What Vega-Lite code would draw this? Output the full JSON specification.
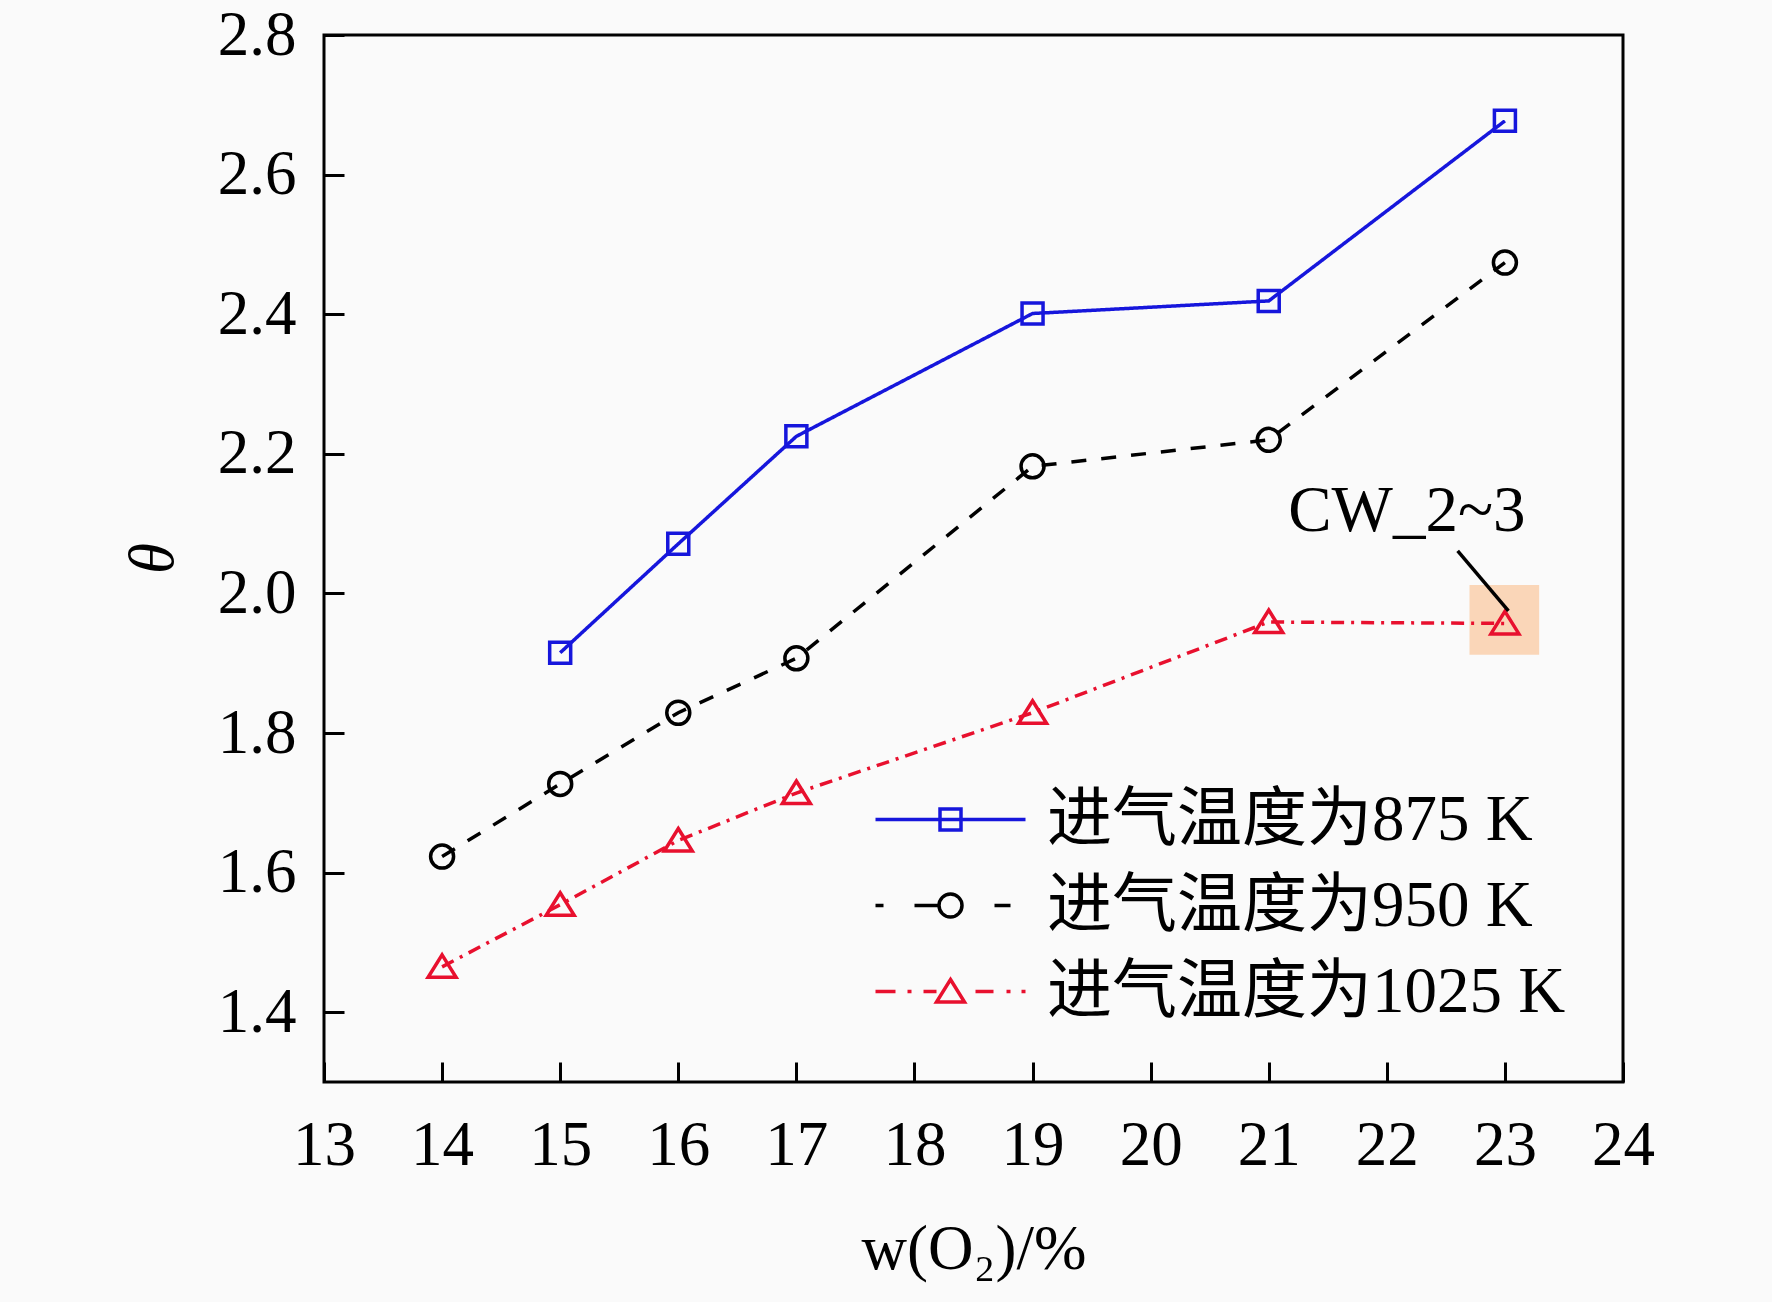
{
  "$schema": "https://vega.github.io/schema/vega-lite/v6.json",
  "autosize": "none",
  "width": 1299,
  "height": 1047,
  "padding": {"left": 324, "top": 35, "right": 149, "bottom": 220},
  "background": "#FAFAFA",
  "config": {
    "view": {"stroke": "#000000", "strokeWidth": 3},
    "font": "Liberation Serif, 'Noto Sans CJK SC'",
    "legend": {"symbolOpacity": 1},
    "axis": {
      "grid": false,
      "domain": false,
      "tickColor": "#000000",
      "tickWidth": 3,
      "tickSize": -20,
      "labelFlush": false,
      "labelFont": "Liberation Serif",
      "labelFontSize": 63,
      "labelColor": "#000000",
      "titleFont": "Liberation Serif",
      "titleFontSize": 63,
      "titleColor": "#000000",
      "titleFontWeight": "normal"
    }
  },
  "datasets": {
    "main": [
      {"series": "进气温度为875 K", "x": 15, "y": 1.915},
      {"series": "进气温度为875 K", "x": 16, "y": 2.071},
      {"series": "进气温度为875 K", "x": 17, "y": 2.225},
      {"series": "进气温度为875 K", "x": 19, "y": 2.401},
      {"series": "进气温度为875 K", "x": 21, "y": 2.419},
      {"series": "进气温度为875 K", "x": 23, "y": 2.677},
      {"series": "进气温度为950 K", "x": 14, "y": 1.623},
      {"series": "进气温度为950 K", "x": 15, "y": 1.727},
      {"series": "进气温度为950 K", "x": 16, "y": 1.829},
      {"series": "进气温度为950 K", "x": 17, "y": 1.907},
      {"series": "进气温度为950 K", "x": 19, "y": 2.182},
      {"series": "进气温度为950 K", "x": 21, "y": 2.220},
      {"series": "进气温度为950 K", "x": 23, "y": 2.474},
      {"series": "进气温度为1025 K", "x": 14, "y": 1.465},
      {"series": "进气温度为1025 K", "x": 15, "y": 1.554},
      {"series": "进气温度为1025 K", "x": 16, "y": 1.646},
      {"series": "进气温度为1025 K", "x": 17, "y": 1.714},
      {"series": "进气温度为1025 K", "x": 19, "y": 1.829},
      {"series": "进气温度为1025 K", "x": 21, "y": 1.959},
      {"series": "进气温度为1025 K", "x": 23, "y": 1.957}
    ]
  },
  "layer": [
    {
      "data": {"values": [{"x1": 22.7, "x2": 23.29, "y1": 1.912, "y2": 2.012}]},
      "mark": {"type": "rect", "fill": "#FAD6B8"},
      "encoding": {
        "x": {"field": "x1", "type": "quantitative", "scale": {"domain": [13, 24], "nice": false, "zero": false}},
        "x2": {"field": "x2"},
        "y": {"field": "y1", "type": "quantitative", "scale": {"domain": [1.3, 2.8], "nice": false, "zero": false}},
        "y2": {"field": "y2"}
      }
    },
    {
      "data": {"name": "main"},
      "mark": {"type": "line", "strokeWidth": 3.5},
      "encoding": {
        "x": {"field": "x", "type": "quantitative"},
        "y": {"field": "y", "type": "quantitative"},
        "color": {
          "field": "series", "type": "nominal",
          "scale": {"domain": ["进气温度为875 K", "进气温度为950 K", "进气温度为1025 K"], "range": ["#1616DC", "#000000", "#E8102E"]}
        },
        "strokeDash": {
          "field": "series", "type": "nominal", "legend": null,
          "sort": ["进气温度为875 K", "进气温度为950 K", "进气温度为1025 K"],
          "scale": {"range": [[1, 0], [15, 15], [13, 7, 3, 7]]}
        }
      }
    },
    {
      "data": {"name": "main"},
      "transform": [{"filter": {"field": "series", "equal": "进气温度为875 K"}}],
      "mark": {"type": "point", "shape": "M-1.05,-1.05H1.05V1.05H-1.05Z", "filled": false, "color": "#1616DC", "size": 400, "strokeWidth": 3.5, "opacity": 1},
      "encoding": {
        "x": {"field": "x", "type": "quantitative"},
        "y": {"field": "y", "type": "quantitative"}
      }
    },
    {
      "data": {"name": "main"},
      "transform": [{"filter": {"field": "series", "equal": "进气温度为950 K"}}],
      "mark": {"type": "point", "shape": "M-1.15,0A1.15,1.15,0,1,0,1.15,0A1.15,1.15,0,1,0,-1.15,0Z", "filled": false, "color": "#000000", "size": 400, "strokeWidth": 3.5, "opacity": 1},
      "encoding": {
        "x": {"field": "x", "type": "quantitative"},
        "y": {"field": "y", "type": "quantitative"}
      }
    },
    {
      "data": {"name": "main"},
      "transform": [{"filter": {"field": "series", "equal": "进气温度为1025 K"}}],
      "mark": {"type": "point", "shape": "M0,-1.2L1.4,1.05H-1.4Z", "filled": false, "color": "#E8102E", "size": 400, "strokeWidth": 3.5, "opacity": 1},
      "encoding": {
        "x": {"field": "x", "type": "quantitative"},
        "y": {"field": "y", "type": "quantitative"}
      }
    },
    {
      "data": {"name": "main"},
      "mark": {"type": "point", "filled": false, "opacity": 0, "size": 400, "strokeWidth": 3.5},
      "encoding": {
        "x": {"field": "x", "type": "quantitative"},
        "y": {"field": "y", "type": "quantitative"},
        "color": {
          "field": "series", "type": "nominal",
          "legend": {
            "orient": "none",
            "legendX": 594,
            "legendY": 752,
            "title": null,
            "symbolSize": 400,
            "symbolStrokeWidth": 3.5,
            "symbolOpacity": 1,
            "symbolFillColor": "transparent",
            "labelFont": "Liberation Serif, 'Noto Sans CJK SC'",
            "labelFontSize": 65,
            "labelColor": "#000000",
            "labelLimit": 2000,
            "labelOffset": 64,
            "rowPadding": 20
          }
        },
        "shape": {
          "field": "series", "type": "nominal",
          "scale": {
            "domain": ["进气温度为875 K", "进气温度为950 K", "进气温度为1025 K"],
            "range": [
              "M-7.5,0H7.5M-1.05,-1.05H1.05V1.05H-1.05Z",
              "M-7.5,0H-6.7M-3.6,0H-1.15M4.4,0H6.0M-1.15,0A1.15,1.15,0,1,0,1.15,0A1.15,1.15,0,1,0,-1.15,0",
              "M-7.5,0H-5.5M-4.3,0H-3.9M-2.7,0H-1.4M2.5,0H4.3M5.6,0H6.0M7.1,0H7.5M0,-1.2L1.4,1.05H-1.4Z"
            ]
          },
          "legend": {
            "orient": "none",
            "legendX": 594,
            "legendY": 752,
            "title": null,
            "symbolSize": 400,
            "symbolStrokeWidth": 3.5,
            "symbolOpacity": 1,
            "symbolFillColor": "transparent",
            "labelFont": "Liberation Serif, 'Noto Sans CJK SC'",
            "labelFontSize": 65,
            "labelColor": "#000000",
            "labelLimit": 2000,
            "labelOffset": 64,
            "rowPadding": 20
          }
        }
      }
    },
    {
      "data": {"values": [{"x1": 22.6, "y1": 2.061, "x2": 23.03, "y2": 1.975}]},
      "mark": {"type": "rule", "color": "#000000", "strokeWidth": 3.5},
      "encoding": {
        "x": {"field": "x1", "type": "quantitative"},
        "y": {"field": "y1", "type": "quantitative"},
        "x2": {"field": "x2"},
        "y2": {"field": "y2"}
      }
    },
    {
      "data": {"values": [{"x": 22.17, "y": 2.118, "label": "CW_2~3"}]},
      "mark": {"type": "text", "font": "Liberation Serif", "fontSize": 65, "color": "#000000", "align": "center", "baseline": "middle"},
      "encoding": {
        "x": {"field": "x", "type": "quantitative"},
        "y": {"field": "y", "type": "quantitative"},
        "text": {"field": "label"}
      }
    }
  ],
  "resolve": {"scale": {"color": "shared"}},
  "encoding": {
    "x": {
      "axis": {
        "title": "w(O₂)/%",
        "values": [13, 14, 15, 16, 17, 18, 19, 20, 21, 22, 23, 24],
        "labelPadding": 52,
        "titleY": 167,
        "titleBaseline": "middle"
      }
    },
    "y": {
      "axis": {
        "title": "θ",
        "titleFontStyle": "italic",
        "values": [1.4, 1.6, 1.8, 2.0, 2.2, 2.4, 2.6, 2.8],
        "format": ".1f",
        "labelPadding": 48,
        "titleX": -171,
        "titleY": 523,
        "titleAngle": -90,
        "titleBaseline": "middle"
      }
    }
  }
}
